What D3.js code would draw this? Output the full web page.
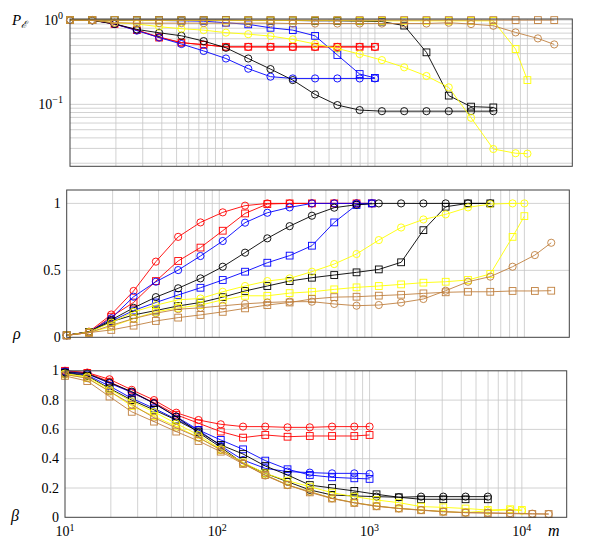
<!DOCTYPE html>
<html><head><meta charset="utf-8">
<script src="https://cdn.jsdelivr.net/npm/d3@7"></script>
<style>
body{margin:0;background:#fff}
</style>
</head><body><svg id="c" width="600" height="556" font-family="'Liberation Serif', 'DejaVu Serif', serif"></svg>
<script>
// ---------- data ----------
const mRedBlue = [10,14,19.6,27.44,38.42,53.78,75.3,105.4,147.6,206.6,289.3,405,567,794,1000];
const mBlack   = [10,14,19.6,27.44,38.42,53.78,75.3,105.4,147.6,206.6,289.3,405,567,794,1111,1556,2178,3049,4269,5977];
const mYellow  = [10,14,19.6,27.44,38.42,53.78,75.3,105.4,147.6,206.6,289.3,405,567,794,1111,1556,2178,3049,4269,5977,8368,10000];
const mBrown   = [10,14,19.6,27.44,38.42,53.78,75.3,105.4,147.6,206.6,289.3,405,567,794,1111,1556,2178,3049,4269,5977,8368,11715,15000];

// P_E (top panel)
const peRedC    = [1.0,1.0,0.9,0.76,0.63,0.54,0.51,0.48,0.48,0.48,0.48,0.48,0.48,0.48,0.48];
const peRedS    = [1.0,1.0,0.9,0.76,0.62,0.54,0.51,0.482,0.482,0.482,0.482,0.482,0.482,0.482,0.482];
const peBlueC   = [1.0,1.0,0.9,0.75,0.62,0.52,0.43,0.35,0.265,0.213,0.203,0.203,0.203,0.203,0.203];
const peBlueS   = [1.0,1.0,1.0,0.99,0.99,0.98,0.97,0.93,0.89,0.81,0.76,0.65,0.385,0.229,0.206];
const peBlackC  = [1.0,0.99,0.9,0.775,0.707,0.651,0.563,0.469,0.35,0.262,0.194,0.131,0.098,0.0855,0.083,0.083,0.083,0.083,0.083,0.083];
const peBlackS  = [1.0,1.0,1.0,1.0,1.0,1.0,1.0,1.0,0.99,0.99,0.99,0.98,0.98,0.97,0.96,0.86,0.414,0.127,0.094,0.092];
const peYellowC = [1.0,1.0,0.93,0.9,0.834,0.79,0.76,0.71,0.68,0.646,0.59,0.52,0.46,0.395,0.335,0.275,0.217,0.159,0.0693,0.0295,0.0263,0.026];
const peYellowS = [1.0,1.0,1.0,0.99,0.99,0.99,0.99,0.99,0.99,0.99,0.99,0.99,0.99,0.98,0.98,0.98,0.98,0.98,0.98,0.98,0.453,0.194];
const peBrownC  = [1.0,1.0,0.93,0.92,0.92,0.92,0.92,0.92,0.92,0.92,0.91,0.91,0.91,0.91,0.91,0.91,0.91,0.93,0.897,0.856,0.714,0.606,0.514];
const peBrownS  = [1.0,1.0,1.0,1.0,1.0,1.0,1.0,1.0,1.0,1.0,1.0,1.0,1.0,1.0,1.0,1.0,1.0,1.0,1.0,1.0,1.0,1.0,1.0];

// rho (middle panel)
const rhoRedC    = [0.015,0.042,0.17,0.346,0.565,0.75,0.858,0.933,0.983,1.0,1.0,1.0,1.0,1.0,1.0];
const rhoRedS    = [0.015,0.035,0.154,0.26,0.42,0.57,0.67,0.796,0.925,0.995,1.0,1.0,1.0,1.0,1.0];
const rhoBlueC   = [0.015,0.04,0.142,0.303,0.415,0.502,0.607,0.719,0.856,0.93,0.97,1.0,1.0,1.0,1.0];
const rhoBlueS   = [0.015,0.04,0.12,0.2,0.26,0.316,0.37,0.428,0.49,0.557,0.61,0.684,0.858,0.988,1.0];
const rhoBlackC  = [0.015,0.04,0.13,0.22,0.3,0.366,0.44,0.527,0.632,0.739,0.83,0.908,0.968,0.99,1.0,1.0,1.0,1.0,1.0,1.0];
const rhoBlackS  = [0.015,0.04,0.117,0.167,0.2,0.234,0.26,0.3,0.346,0.383,0.42,0.445,0.465,0.485,0.507,0.56,0.8,0.975,1.0,1.0];
const rhoYellowC = [0.015,0.04,0.11,0.19,0.24,0.28,0.29,0.34,0.383,0.42,0.44,0.49,0.547,0.622,0.726,0.82,0.88,0.918,0.97,0.995,1.0,1.0];
const rhoYellowS = [0.015,0.035,0.08,0.14,0.19,0.22,0.24,0.28,0.31,0.31,0.33,0.34,0.358,0.373,0.383,0.395,0.408,0.415,0.428,0.473,0.75,0.905];
const rhoBrownC  = [0.015,0.035,0.09,0.14,0.18,0.21,0.22,0.235,0.25,0.26,0.266,0.266,0.249,0.236,0.241,0.259,0.286,0.348,0.415,0.453,0.527,0.614,0.706];
const rhoBrownS  = [0.015,0.035,0.055,0.087,0.122,0.147,0.167,0.19,0.216,0.241,0.26,0.286,0.3,0.303,0.311,0.318,0.328,0.336,0.34,0.34,0.346,0.346,0.348];

// beta (bottom panel)
const betaRedC    = [1.0,0.988,0.942,0.87,0.8,0.714,0.664,0.635,0.619,0.619,0.614,0.614,0.619,0.619,0.619];
const betaRedS    = [1.0,0.985,0.926,0.851,0.783,0.7,0.642,0.585,0.544,0.562,0.55,0.555,0.555,0.555,0.562];
const betaBlueC   = [0.995,0.98,0.915,0.853,0.778,0.687,0.596,0.487,0.391,0.334,0.312,0.305,0.3,0.3,0.296];
const betaBlueS   = [0.99,0.97,0.896,0.812,0.744,0.669,0.596,0.528,0.464,0.387,0.328,0.289,0.273,0.266,0.262];
const betaBlackC  = [0.99,0.98,0.92,0.858,0.778,0.687,0.578,0.478,0.369,0.3,0.243,0.187,0.152,0.146,0.141,0.137,0.141,0.141,0.141,0.141];
const betaBlackS  = [0.985,0.965,0.88,0.8,0.733,0.664,0.585,0.494,0.432,0.35,0.289,0.22,0.2,0.18,0.157,0.137,0.123,0.123,0.123,0.123];
const betaYellowC = [0.98,0.96,0.874,0.79,0.72,0.64,0.562,0.464,0.369,0.289,0.221,0.175,0.13,0.1,0.077,0.061,0.05,0.039,0.032,0.045,0.05,0.045];
const betaYellowS = [0.975,0.95,0.86,0.76,0.69,0.62,0.545,0.46,0.375,0.3,0.25,0.209,0.168,0.141,0.118,0.1,0.073,0.068,0.06,0.05,0.055,0.05];
const betaBrownC  = [0.975,0.95,0.86,0.77,0.68,0.61,0.545,0.46,0.37,0.285,0.22,0.175,0.13,0.1,0.077,0.061,0.05,0.039,0.032,0.031,0.028,0.025,0.022];
const betaBrownS  = [0.965,0.93,0.824,0.72,0.653,0.585,0.521,0.448,0.364,0.289,0.221,0.17,0.128,0.098,0.075,0.06,0.048,0.038,0.032,0.028,0.025,0.0225,0.0225];

const xTickValues = [10,100,1000,10000];
const xTickExp = ["1","2","3","4"];
const betaTicks = [0,0.2,0.4,0.6,0.8,1];
const betaTickLabels = ["0","0.2","0.4","0.6","0.8","1"];
const rhoTicks = [0,0.5,1];
const rhoTickLabels = ["0","0.5","1"];
const peTicks = [1,0.1];
const peTickExp = ["0","\u22121"];

// ---------- series table ----------
const colors = {red:"#ff0000", blue:"#0000ff", black:"#000000", yellow:"#ffff00", brown:"#c0803f"};
const series = [
  {c:"red",    mk:"o", m:mRedBlue, pe:peRedC,    rho:rhoRedC,    beta:betaRedC},
  {c:"red",    mk:"s", m:mRedBlue, pe:peRedS,    rho:rhoRedS,    beta:betaRedS},
  {c:"blue",   mk:"o", m:mRedBlue, pe:peBlueC,   rho:rhoBlueC,   beta:betaBlueC},
  {c:"blue",   mk:"s", m:mRedBlue, pe:peBlueS,   rho:rhoBlueS,   beta:betaBlueS},
  {c:"black",  mk:"o", m:mBlack,   pe:peBlackC,  rho:rhoBlackC,  beta:betaBlackC},
  {c:"black",  mk:"s", m:mBlack,   pe:peBlackS,  rho:rhoBlackS,  beta:betaBlackS},
  {c:"yellow", mk:"o", m:mYellow,  pe:peYellowC, rho:rhoYellowC, beta:betaYellowC},
  {c:"yellow", mk:"s", m:mYellow,  pe:peYellowS, rho:rhoYellowS, beta:betaYellowS},
  {c:"brown",  mk:"o", m:mBrown,   pe:peBrownC,  rho:rhoBrownC,  beta:betaBrownC},
  {c:"brown",  mk:"s", m:mBrown,   pe:peBrownS,  rho:rhoBrownS,  beta:betaBrownS}
];

// ---------- drawing ----------
const FONT = "'Liberation Serif', 'DejaVu Serif', serif";
const svg = d3.select("#c");
const gridColor = "#c6c6c6";
const axisColor = "#404040";

const panels = [
  {key:"pe",   x0:70,   x1:572.3, y0:19,    y1:166.3, log:true,  dom:[0.0184,1.03]},
  {key:"rho",  x0:66.7, x1:569.3, y0:190,   y1:337.3, log:false, dom:[0,1.1]},
  {key:"beta", x0:65,   x1:566.7, y0:370.8, y1:517.3, log:false, dom:[0,1]}
];

function minorLog(lo, hi){
  const out=[];
  for(let e=-3;e<=6;e++){
    for(let k=1;k<=9;k++){
      const v=k*Math.pow(10,e);
      if(v>=lo*0.9999 && v<=hi*1.0001) out.push(v);
    }
  }
  return out;
}
function txt(sel){ return sel.append("text").attr("font-family",FONT).attr("fill","#000"); }

panels.forEach(p=>{
  const x = d3.scaleLog().domain([10,19700]).range([p.x0,p.x1]);
  const y = (p.log? d3.scaleLog() : d3.scaleLinear()).domain(p.dom).range([p.y1,p.y0]);
  p.x=x; p.y=y;
  const g = svg.append("g");
  g.selectAll("line.vx").data(minorLog(10,19700).filter(v=>x(v)>p.x0+0.5 && x(v)<p.x1-0.5)).enter()
    .append("line").attr("x1",d=>x(d)).attr("x2",d=>x(d)).attr("y1",p.y0).attr("y2",p.y1)
    .attr("stroke",gridColor).attr("stroke-width",0.8);
  let hy;
  if(p.key==="pe") hy = minorLog(p.dom[0],p.dom[1]);
  else if(p.key==="rho") hy = [0.5,1];
  else hy = [0.2,0.4,0.6,0.8];
  g.selectAll("line.hy").data(hy).enter()
    .append("line").attr("x1",p.x0).attr("x2",p.x1).attr("y1",d=>y(d)).attr("y2",d=>y(d))
    .attr("stroke",gridColor).attr("stroke-width",0.8);

  series.forEach(s=>{
    const pts = s.m.map((m,i)=>[m,s[p.key][i]]);
    const col = colors[s.c];
    g.append("path").datum(pts)
      .attr("d", d3.line().x(d=>x(d[0])).y(d=>y(d[1])))
      .attr("fill","none").attr("stroke",col).attr("stroke-width",0.9);
    if(s.mk==="o"){
      g.selectAll(null).data(pts).enter().append("circle")
        .attr("cx",d=>x(d[0])).attr("cy",d=>y(d[1])).attr("r",3.6)
        .attr("fill","none").attr("stroke",col).attr("stroke-width",0.9);
    } else {
      g.selectAll(null).data(pts).enter().append("rect")
        .attr("x",d=>x(d[0])-3.4).attr("y",d=>y(d[1])-3.4).attr("width",6.8).attr("height",6.8)
        .attr("fill","none").attr("stroke",col).attr("stroke-width",0.9);
    }
  });

  g.append("rect").attr("x",p.x0).attr("y",p.y0).attr("width",p.x1-p.x0).attr("height",p.y1-p.y0)
    .attr("fill","none").attr("stroke",axisColor).attr("stroke-width",1);

  if(p.key==="pe"){
    peTicks.forEach((v,i)=>{
      const t = txt(g).attr("x",p.x0-7).attr("y",y(v)+4.5).attr("text-anchor","end").attr("font-size",14);
      t.append("tspan").text("10");
      t.append("tspan").attr("dy",-5.5).attr("font-size",10).text(peTickExp[i]);
    });
  } else {
    const tv = p.key==="rho"? rhoTicks : betaTicks;
    const tl = p.key==="rho"? rhoTickLabels : betaTickLabels;
    tv.forEach((v,i)=>{
      txt(g).attr("x",p.x0-6).attr("y",y(v)+4.5).attr("text-anchor","end").attr("font-size",14).text(tl[i]);
    });
  }
});

const pb = panels[2];
xTickValues.forEach((v,i)=>{
  const t = txt(svg).attr("x",pb.x(v)).attr("y",536).attr("text-anchor","middle").attr("font-size",14);
  t.append("tspan").text("10");
  t.append("tspan").attr("dy",-5.5).attr("font-size",10).text(xTickExp[i]);
});

const pl = txt(svg).attr("x",12).attr("y",24.5).attr("font-size",15);
pl.append("tspan").attr("font-style","italic").text("P");
pl.append("tspan").attr("dy",3).attr("font-size",10).attr("font-style","italic").text("\u2130");
txt(svg).attr("x",13).attr("y",339).attr("font-size",16).attr("font-style","italic").text("\u03c1");
txt(svg).attr("x",11).attr("y",521).attr("font-size",16).attr("font-style","italic").text("\u03b2");
txt(svg).attr("x",548).attr("y",536).attr("font-size",16).attr("font-style","italic").text("m");
</script></body></html>
